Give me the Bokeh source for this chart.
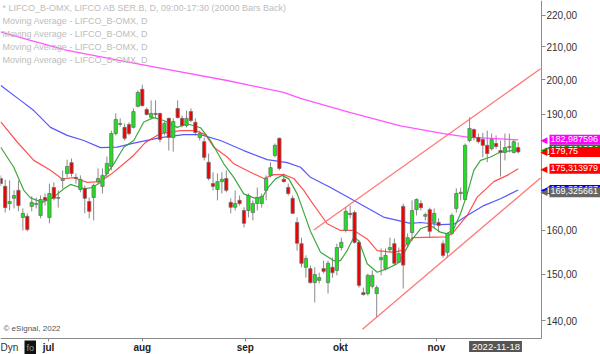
from bokeh.plotting import figure
from bokeh.models import Range1d, FixedTicker, CustomJSTickFormatter, Label
from bokeh.embed import file_html
from bokeh.resources import INLINE

# ---------------- data ----------------
opens = [172.8, 170.8, 166.5, 167.8, 169.8, 163.1, 163.4, 165.8, 166.3, 163.6,
         168.0, 163.1, 170.5, 167.8, 172.3, 174.1, 176.9, 173.1, 170.0, 170.3,
         167.0, 168.0, 172.0, 170.8, 174.1, 175.9, 184.7, 187.2, 186.4, 187.2,
         186.4, 192.3, 197.2, 191.4, 189.2, 190.3, 190.3, 185.0, 188.9, 183.6,
         191.7, 188.9, 186.9, 190.8, 187.8, 183.6, 182.5, 177.0, 171.5, 170.0,
         172.0, 172.8, 166.8, 165.6, 167.3, 164.8, 164.8, 164.3, 166.5, 166.5,
         169.8, 173.6, 178.8, 183.4, 172.6, 170.5, 167.8, 161.9, 156.9, 151.5,
         151.2, 148.1, 148.6, 151.2, 148.1, 151.5, 150.8, 156.0, 160.0, 164.1,
         164.3, 157.2, 145.9, 145.7, 147.3, 145.7, 153.2, 151.2, 155.5, 156.9,
         152.6, 165.8, 156.9, 159.5, 165.0, 166.5, 163.4, 165.0, 161.9, 161.9,
         156.9, 154.9, 159.3, 165.3, 169.0, 167.5, 182.8, 185.8, 183.6, 183.1,
         181.5, 180.6, 182.0, 180.1, 179.6, 180.9, 179.6, 180.9]
highs = [173.6, 172.5, 172.3, 169.8, 172.3, 165.3, 164.1, 168.3, 168.0, 168.5,
         169.0, 171.5, 171.8, 169.8, 174.9, 177.7, 178.0, 174.1, 173.6, 171.0,
         168.0, 171.5, 175.4, 175.4, 178.5, 185.5, 190.3, 188.9, 187.5, 187.8,
         191.7, 196.9, 198.6, 192.0, 194.0, 194.0, 190.5, 188.0, 189.1, 188.9,
         194.0, 189.7, 191.1, 191.7, 188.9, 185.5, 183.6, 179.3, 174.4, 174.1,
         174.4, 174.9, 167.8, 169.8, 168.5, 165.6, 169.0, 167.3, 170.5, 169.0,
         173.6, 177.0, 182.0, 183.6, 174.1, 171.5, 168.5, 163.1, 158.3, 154.2,
         151.9, 151.5, 150.3, 153.0, 153.0, 153.7, 156.9, 158.3, 165.6, 166.0,
         164.8, 157.6, 147.0, 150.1, 150.8, 147.5, 155.8, 155.8, 158.3, 158.1,
         156.0, 166.5, 159.3, 167.3, 167.8, 167.3, 164.3, 165.5, 165.3, 162.9,
         157.6, 159.5, 164.1, 170.3, 170.5, 182.0, 189.2, 186.1, 184.7, 184.9,
         185.5, 184.7, 184.2, 182.8, 184.7, 184.7, 183.1, 182.3]
lows = [170.8, 164.3, 164.8, 165.3, 164.6, 160.0, 159.8, 164.6, 165.3, 162.9,
        166.0, 161.7, 167.3, 165.5, 170.3, 173.1, 173.3, 171.5, 169.3, 164.1,
        162.9, 162.4, 171.5, 169.0, 173.1, 174.9, 184.2, 186.6, 182.8, 184.2,
        186.1, 192.0, 192.3, 189.7, 188.9, 188.9, 182.3, 184.2, 180.1, 179.8,
        188.9, 186.4, 186.4, 187.8, 184.2, 182.8, 177.5, 172.3, 169.8, 167.3,
        169.0, 169.3, 164.1, 164.8, 166.0, 160.7, 163.1, 162.4, 164.8, 165.5,
        167.3, 173.1, 178.3, 174.9, 171.8, 168.5, 164.1, 155.3, 151.5, 149.2,
        147.9, 143.8, 147.9, 150.1, 145.7, 149.2, 149.7, 155.3, 159.5, 162.9,
        156.9, 147.0, 145.3, 145.3, 146.8, 140.7, 149.7, 150.8, 154.9, 151.9,
        152.4, 146.8, 156.0, 157.6, 163.6, 164.8, 162.4, 158.3, 160.5, 159.5,
        153.7, 153.7, 158.8, 164.3, 167.3, 167.3, 182.3, 182.8, 182.0, 178.3,
        177.0, 180.1, 180.6, 173.3, 177.5, 179.6, 179.3, 179.3]
closes = [171.5, 165.5, 167.0, 168.5, 166.0, 164.1, 160.2, 166.8, 166.5, 167.5,
          167.3, 169.0, 167.8, 168.0, 172.8, 175.9, 174.1, 172.8, 172.6, 167.8,
          164.6, 171.0, 172.8, 173.6, 176.7, 184.7, 188.6, 187.5, 183.4, 184.7,
          190.8, 196.3, 192.5, 190.0, 190.3, 190.0, 183.1, 187.5, 183.6, 188.0,
          189.1, 186.9, 188.9, 188.3, 185.0, 184.7, 178.3, 172.8, 170.8, 172.0,
          172.6, 169.8, 165.6, 166.5, 166.5, 161.7, 168.5, 166.5, 168.0, 168.3,
          172.8, 175.6, 181.5, 175.4, 172.0, 169.0, 164.1, 157.0, 152.4, 153.5,
          148.1, 149.9, 149.2, 150.6, 152.4, 150.3, 156.0, 157.2, 164.6, 163.8,
          157.2, 147.5, 145.5, 149.7, 149.7, 147.0, 153.7, 154.2, 156.0, 152.4,
          154.6, 152.0, 158.3, 164.8, 167.5, 165.5, 163.8, 159.8, 164.1, 161.2,
          154.2, 159.3, 163.6, 169.0, 169.3, 181.5, 186.1, 183.6, 182.5, 181.5,
          179.3, 183.1, 181.2, 179.6, 180.9, 181.2, 182.5, 179.75]

# moving averages: (bar position, value)
ma_green_x = [0, 2.94, 5.21, 6.72, 9.37, 11.99, 14.25, 15.77, 18.77, 20.67,
              22.55, 25.56, 27.82, 30.08, 32.34, 34.60, 36.86, 39.89, 42.15, 45.16,
              47.42, 50.43, 52.69, 54.95, 57.22, 59.11, 60.24, 62.12, 63.64, 65.13,
              67.03, 68.90, 70.03, 72.30, 75.30, 76.82, 78.33, 79.83, 80.96, 82.86,
              85.12, 87.38, 89.64, 90.39, 91.52, 92.65, 94.91, 97.17, 99.43, 100.95,
              102.44, 103.95, 105.47, 106.96, 108.48, 110.74, 113.00, 117]
ma_green_y = [181.0, 175.7, 169.8, 167.9, 166.8, 168.1, 170.2, 171.3, 170.2, 170.5,
              171.8, 176.6, 181.0, 182.8, 187.9, 189.1, 188.3, 186.4, 187.4, 186.3,
              182.8, 176.6, 173.1, 168.9, 167.9, 167.9, 170.2, 172.7, 173.6, 172.7,
              168.9, 163.2, 159.8, 154.9, 153.0, 153.0, 155.3, 158.4, 157.6, 152.3,
              150.4, 151.2, 152.3, 153.3, 155.3, 157.4, 160.4, 161.2, 159.6, 159.2,
              160.4, 164.0, 168.9, 174.9, 177.5, 178.4, 179.7, 180.3]
ma_red_x = [0, 3.71, 7.47, 11.24, 13.89, 16.51, 19.54, 22.55, 24.81, 27.07,
            30.01, 32.72, 36.12, 40.64, 44.03, 46.29, 48.17, 51.20, 52.69, 56.47,
            59.48, 61.74, 64.00, 66.26, 68.52, 70.03, 73.81, 76.82, 79.83, 82.86,
            85.12, 88.87, 90.39, 91.52, 93.10, 100.95, 102.44, 105.47, 107.73, 111.48,
            114.51, 117]
ma_red_y = [187.9, 182.4, 177.5, 174.9, 172.7, 173.0, 171.8, 172.0, 173.8, 175.9,
            178.8, 182.3, 184.7, 185.5, 185.5, 184.4, 181.0, 178.4, 176.6, 174.4,
            172.8, 173.8, 173.8, 172.8, 169.8, 167.3, 161.6, 160.0, 160.0, 158.0,
            155.3, 154.9, 155.3, 156.5, 158.3, 158.5, 159.7, 163.6, 168.1, 172.0,
            173.6, 175.31]
ma_blue_x = [0, 4.46, 7.47, 11.24, 15.02, 18.77, 22.55, 26.33, 30.08, 36.12,
             41.39, 45.16, 49.68, 54.95, 60.24, 64.77, 67.77, 70.03, 74.56, 79.76,
             86.54, 92.65, 94.91, 99.43, 102.44, 105.47, 109.22, 113.00, 117]
ma_blue_y = [198.3, 194.0, 191.1, 186.4, 184.2, 182.8, 180.9, 181.0, 182.1, 183.6,
             184.4, 184.4, 182.8, 180.1, 177.7, 176.9, 175.7, 173.1, 170.5, 167.3,
             163.2, 161.7, 161.9, 161.4, 161.5, 163.6, 166.0, 167.7, 169.9]
ma_mag_x = [0, 6.72, 15.02, 27.07, 37.63, 51.20, 63.93, 67.77, 79.08, 90.39,
            100.11, 105.54, 117]
ma_mag_y = [214.7, 212.0, 208.9, 205.8, 203.1, 199.8, 196.3, 194.6, 190.5, 186.8,
            184.7, 183.7, 182.99]

# trend channel end points (bar position, price)
chan_up_x = [70.78, 122.05]
chan_up_y = [160.1, 203.3]
chan_lo_x = [81.79, 122.05]
chan_lo_y = [138.2, 172.95]

month_pos = [10.8, 32.0, 55.3, 76.8, 98.5]
month_names = ["jul", "aug", "sep", "okt", "nov"]
price_ticks = [140, 150, 160, 170, 180, 190, 200, 210, 220]

tag_values = [182.987596, 180.30, 179.75, 175.313979, 169.90, 169.325661]
tag_texts = ["182,987596", "180,301254", "179,75", "175,313979", "169,896487", "169,325661"]
tag_colors = ["#ff00ff", "#009a00", "#ff0000", "#ff0000", "#0000ff", "#666666"]

legend_lines = ["* LIFCO_B-OMX, LIFCO AB SER.B, D, 09:00-17:30 (20000 Bars Back)",
                "Moving Average - LIFCO_B-OMX, D",
                "Moving Average - LIFCO_B-OMX, D",
                "Moving Average - LIFCO_B-OMX, D",
                "Moving Average - LIFCO_B-OMX, D"]

FONT = "Liberation Sans"

# visible price window and bar window (the axes are bounded to these)
X_FIRST, X_LAST = -0.06, 122.27
P_LOW, P_HIGH = 136.34, 224.94

# ---------------- figure ----------------
p = figure(width=600, height=354, output_backend="svg", toolbar_location=None,
           y_axis_type="log", y_axis_location="right",
           x_range=Range1d(X_FIRST, 135.61), y_range=Range1d(133.14, P_HIGH),
           min_border_left=0, min_border_top=0, min_border_right=0, min_border_bottom=0)
p.outline_line_color = None
p.grid.visible = False
p.background_fill_color = "white"
p.border_fill_color = "white"

idx = list(range(len(opens)))
inc = [i for i in idx if closes[i] >= opens[i]]
dec = [i for i in idx if closes[i] < opens[i]]

# wicks
p.segment(x0=idx, y0=highs, x1=idx, y1=lows, line_color="#8a8a8a", line_width=1)

# moving averages
p.line(ma_mag_x, ma_mag_y, line_color="#ff44ff", line_width=1.3, line_alpha=0.9)
p.line(ma_blue_x, ma_blue_y, line_color="#3a3aff", line_width=1.2, line_alpha=0.85)
p.line(ma_red_x, ma_red_y, line_color="#ff3434", line_width=1.2, line_alpha=0.85)
p.line(ma_green_x, ma_green_y, line_color="#2a9e2a", line_width=1.2, line_alpha=0.9)

# bodies
p.vbar(x=inc, width=0.74, bottom=[opens[i] for i in inc], top=[closes[i] for i in inc],
       fill_color="#19e619", line_color="#6e6e6e", line_width=0.8)
p.vbar(x=dec, width=0.74, top=[opens[i] for i in dec], bottom=[closes[i] for i in dec],
       fill_color="#f00000", line_color="#6e6e6e", line_width=0.8)

# channel
p.line(chan_up_x, chan_up_y, line_color="#ff6060", line_width=1.3, line_alpha=0.85)
p.line(chan_lo_x, chan_lo_y, line_color="#ff6060", line_width=1.3, line_alpha=0.85)

# axes (placed at the edge of the price window)
ya = p.yaxis[0]
ya.fixed_location = X_LAST
ya.bounds = (P_LOW, P_HIGH)
ya.ticker = FixedTicker(ticks=price_ticks)
ya.formatter = CustomJSTickFormatter(code="return tick.toFixed(2).replace('.', ',');")
ya.axis_line_color = "#8c8c8c"
ya.major_tick_line_color = "#8c8c8c"
ya.major_tick_out = 4
ya.major_tick_in = 0
ya.minor_tick_line_color = None
ya.major_label_standoff = 1
ya.major_label_text_font = FONT
ya.major_label_text_font_size = "10px"
ya.major_label_text_color = "#333333"

xa = p.xaxis[0]
xa.fixed_location = P_LOW
xa.bounds = (X_FIRST, X_LAST)
xa.ticker = FixedTicker(ticks=month_pos)
xa.formatter = CustomJSTickFormatter(args=dict(pos=month_pos, names=month_names),
                                     code="""
let best = 0, d = 1e9;
for (let i = 0; i < pos.length; i++) { const e = Math.abs(pos[i] - tick); if (e < d) { d = e; best = i; } }
return names[best];
""")
xa.axis_line_color = "#8c8c8c"
xa.major_tick_line_color = "#8c8c8c"
xa.major_tick_out = 3
xa.major_tick_in = 0
xa.minor_tick_line_color = None
xa.major_label_standoff = 1
xa.major_label_text_font = FONT
xa.major_label_text_font_size = "10px"
xa.major_label_text_font_style = "bold"
xa.major_label_text_color = "#222222"

H = 354  # screen units count from the bottom of the frame

# legend texts
for k, t in enumerate(legend_lines):
    p.add_layout(Label(x=2, y=H - 7 - 13 * k, x_units="screen", y_units="screen", text=t,
                       text_font=FONT, text_font_size="9px", text_color="#bdbdbd",
                       text_baseline="middle", text_align="left"))

p.add_layout(Label(x=3, y=H - 328, x_units="screen", y_units="screen", text="© eSignal, 2022",
                   text_font=FONT, text_font_size="8px", text_color="#555555",
                   text_baseline="middle"))

# price tags on the right
TAG_FS = 9
for val, txt, col in zip(tag_values, tag_texts, tag_colors):
    w = sum(0.278 if ch == ',' else 0.556 for ch in txt) * TAG_FS
    pad_r = max(1, int(round(600 - 549 - w)))
    p.add_layout(Label(x=547, y=val, x_units="screen", y_units="data", text="◀",
                       text_color=col, text_font="DejaVu Sans", text_font_size="9px",
                       text_align="right", text_baseline="middle"))
    p.add_layout(Label(x=549, y=val, x_units="screen", y_units="data", text=txt,
                       text_color="white", text_font=FONT, text_font_size="9px",
                       text_align="left", text_baseline="middle",
                       background_fill_color=col, padding=(1, pad_r, 1, 3)))

# bottom bar items
p.add_layout(Label(x=0, y=H - 347, x_units="screen", y_units="screen", text="Dyn",
                   text_font=FONT, text_font_size="10px", text_color="#333333",
                   text_baseline="middle"))
p.add_layout(Label(x=24, y=H - 347, x_units="screen", y_units="screen", text="fo",
                   text_font=FONT, text_font_size="9px", text_color="#9a9a9a",
                   text_baseline="middle", background_fill_color="#111111", padding=(2, 2, 2, 2)))
p.add_layout(Label(x=495, y=H - 346, x_units="screen", y_units="screen", text="2022-11-18",
                   text_font=FONT, text_font_size="9.5px", text_color="white",
                   text_baseline="middle", text_align="center",
                   background_fill_color="#555555", padding=(3, 2, 3, 2)))

open("out.html", "w").write(file_html(p, INLINE))
